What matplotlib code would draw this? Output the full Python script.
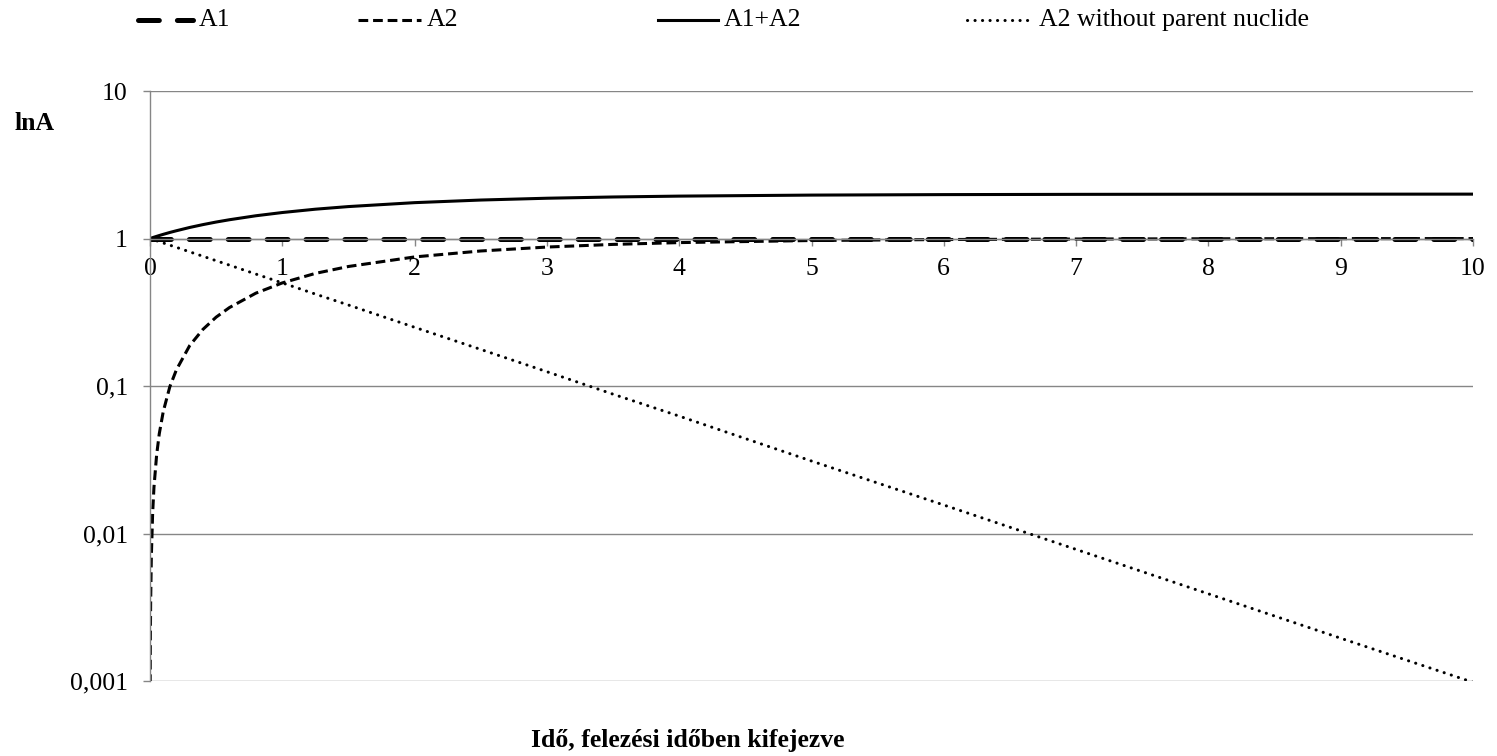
import matplotlib
matplotlib.use("Agg")
import matplotlib.pyplot as plt
from matplotlib.lines import Line2D
from matplotlib.ticker import FixedLocator, FixedFormatter

plt.rcParams['font.family'] = ['Liberation Serif', 'DejaVu Serif']
plt.rcParams['lines.scale_dashes'] = False

# time in half-lives
t = [0, 0.001, 0.003, 0.005, 0.01, 0.02, 0.03, 0.05, 0.07, 0.1, 0.15, 0.2, 0.3, 0.4,
     0.5, 0.6, 0.8, 1, 1.25, 1.5, 2, 2.5, 3, 3.5, 4, 5, 6, 7, 8, 9, 10]
a1 = [1, 1, 1, 1, 1, 1, 1, 1, 1, 1, 1, 1, 1, 1,
      1, 1, 1, 1, 1, 1, 1, 1, 1, 1, 1, 1, 1, 1, 1, 1, 1]
a2 = [0, 0.0007, 0.0021, 0.0035, 0.0069, 0.0138, 0.0206, 0.034, 0.0474, 0.067, 0.099,
      0.129, 0.188, 0.242, 0.293, 0.340, 0.426, 0.5, 0.580, 0.646, 0.75, 0.823, 0.875,
      0.912, 0.938, 0.969, 0.984, 0.992, 0.996, 0.998, 0.999]
a1a2 = [1, 1.0007, 1.0021, 1.0035, 1.0069, 1.0138, 1.0206, 1.034, 1.0474, 1.067, 1.099,
        1.129, 1.188, 1.242, 1.293, 1.340, 1.426, 1.5, 1.580, 1.646, 1.75, 1.823, 1.875,
        1.912, 1.938, 1.969, 1.984, 1.992, 1.996, 1.998, 1.999]
a2_free = [1, 0.9993, 0.9979, 0.9965, 0.9931, 0.9862, 0.9794, 0.966, 0.9526, 0.933, 0.901,
           0.871, 0.812, 0.758, 0.707, 0.660, 0.574, 0.5, 0.420, 0.354, 0.25, 0.177, 0.125,
           0.088, 0.0625, 0.031, 0.0156, 0.0078, 0.0039, 0.00195, 0.00098]

labels = ['A1', 'A2', 'A1+A2', 'A2 without parent nuclide']
y_ticks = [0.001, 0.01, 0.1, 1, 10]
y_ticklabels = ['0,001', '0,01', '0,1', '1', '10']
x_ticks = [0, 1, 2, 3, 4, 5, 6, 7, 8, 9, 10]

grey = '#868686'
fs = 18.5
styles = [
    dict(lw=3.6, dashes=(15, 13), dash_capstyle='round'),
    dict(lw=2.2, dashes=(7, 3.5)),
    dict(lw=2.2, ls='-'),
    dict(lw=2.2, dashes=(0.1, 5.3), dash_capstyle='round'),
]

fig = plt.figure(figsize=(14.97, 7.56), dpi=100)
ax = fig.add_axes([150 / 1497, 1 - 681 / 756, (1473 - 150) / 1497, (681 - 91) / 756])

series = [a1, a2, a1a2, a2_free]
for ys, st in zip(series, styles):
    ax.plot(t, ys, color='black', **st)

ax.set_yscale('log')
ax.set_ylim(0.001, 10)
ax.set_xlim(0, 10)

ax.yaxis.set_major_locator(FixedLocator(y_ticks))
ax.yaxis.set_major_formatter(FixedFormatter(y_ticklabels))
ax.yaxis.set_minor_locator(FixedLocator([]))
ax.set_xticks(x_ticks)
ax.set_xticklabels([str(v) for v in x_ticks])

ax.grid(axis='y', color=grey, lw=1.0)
ax.set_axisbelow(True)

for s in ['top', 'right']:
    ax.spines[s].set_visible(False)
ax.spines['bottom'].set_position(('data', 1))
ax.spines['bottom'].set_color(grey)
ax.spines['left'].set_color(grey)
ax.spines['bottom'].set_linewidth(1.0)
ax.spines['left'].set_linewidth(1.0)

ax.tick_params(axis='y', length=5, color=grey, width=1.0, labelsize=fs, pad=11)
ax.tick_params(axis='x', length=5, color=grey, width=1.0, labelsize=fs, pad=9)

# y label and x label
fig.text(35 / 1497, 1 - 124 / 756, 'lnA', fontsize=fs, fontweight='bold', ha='center', va='center')
fig.text(688 / 1497, 1 - 740 / 756, 'Idő, felezési időben kifejezve', fontsize=fs,
         fontweight='bold', ha='center', va='center')

# legend drawn along the top
leg_x = [(138, 193), (358, 421), (658, 718), (967, 1033)]
leg_y = 1 - 20 / 756
for (x0, x1), lab, st in zip(leg_x, labels, styles):
    fig.add_artist(Line2D([x0 / 1497, x1 / 1497], [leg_y, leg_y], color='black',
                          transform=fig.transFigure, **st))
    fig.text((x1 + 6) / 1497, leg_y, lab, fontsize=fs, ha='left', va='center')

fig.savefig('out.png', dpi=100)
